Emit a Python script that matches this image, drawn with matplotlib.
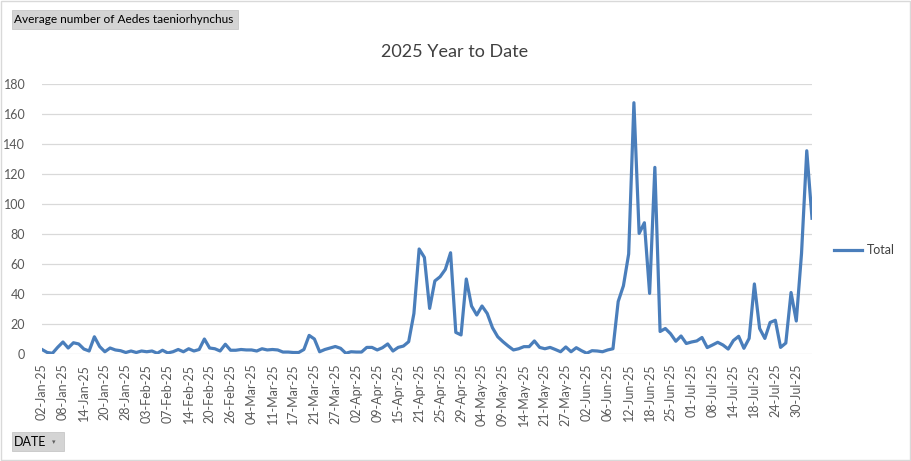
import matplotlib
matplotlib.use("Agg")
import matplotlib.pyplot as plt
from matplotlib.patches import Rectangle

plt.rcParams['font.family'] = ['Lato', 'DejaVu Sans']

# average count per sampling date (148 samples, labelled every 4th)
values = [3, 1, 0.5, 4.5, 8, 4, 7.5, 6.7, 3.3, 2, 11.5, 5, 1.5, 4, 2.7, 2.2, 1, 2, 1, 2,
          1.5, 2, 0.5, 2.5, 0.7, 1.5, 3, 1.5, 3.5, 2, 3, 10, 4, 3.5, 2, 6.5, 2.5, 2.5,
          3, 2.7, 2.7, 2, 3.5, 2.7, 3, 2.7, 1.3, 1.3, 1, 1, 3, 12.4, 10, 1.5, 3, 4, 5,
          3.8, 0.5, 1.5, 1.3, 1.3, 4.4, 4.4, 2.7, 4.2, 6.7, 2, 4.4, 5.3, 8.2, 27, 70,
          64.4, 30.4, 48.7, 51.5, 56.4, 67.5, 14.4, 12.7, 50, 32, 26, 32, 27, 17.5,
          11.5, 8.2, 5.3, 2.7, 3.5, 4.9, 4.9, 8.7, 4.4, 3.5, 4.4, 3, 1.5, 4.7, 1.5,
          4.2, 2.2, 0.5, 2.2, 2, 1.5, 2.7, 3.5, 35, 45.5, 66.7, 167.5, 80.4, 87.5,
          40.4, 124.4, 15, 17, 13.5, 8.5, 12, 7, 8, 8.7, 11, 4.3, 6, 7.8, 6, 3.3, 9,
          11.8, 3.8, 10.4, 46.7, 17, 10.4, 21, 22.5, 4.4, 7.3, 41, 22, 67, 135.5, 90.5]

tick_labels = ['02-Jan-25', '08-Jan-25', '14-Jan-25', '20-Jan-25', '28-Jan-25',
               '03-Feb-25', '07-Feb-25', '14-Feb-25', '20-Feb-25', '26-Feb-25',
               '04-Mar-25', '11-Mar-25', '17-Mar-25', '21-Mar-25', '27-Mar-25',
               '02-Apr-25', '09-Apr-25', '15-Apr-25', '21-Apr-25', '25-Apr-25',
               '29-Apr-25', '04-May-25', '09-May-25', '14-May-25', '21-May-25',
               '27-May-25', '02-Jun-25', '06-Jun-25', '12-Jun-25', '18-Jun-25',
               '25-Jun-25', '01-Jul-25', '08-Jul-25', '14-Jul-25', '18-Jul-25',
               '24-Jul-25', '30-Jul-25']
label_step = 4

fig = plt.figure(figsize=(9.12, 4.61), dpi=100)
ax = fig.add_axes([42 / 912, 107 / 461, 770 / 912, 270 / 461])

x = list(range(len(values)))
ax.plot(x, values, color='#4a7ebb', lw=2.3, label='Total', solid_joinstyle='round')

ax.set_xlim(0, len(values) - 1)
ax.set_ylim(0, 180)
ax.set_yticks(range(0, 181, 20))
ax.set_xticks(x[::label_step])
ax.set_xticklabels(tick_labels, rotation=90)
ax.tick_params(axis='both', length=0, colors='#595959', labelsize=9)
ax.tick_params(axis='x', pad=7)
ax.tick_params(axis='y', pad=12)
ax.grid(axis='y', color='#d9d9d9', lw=0.9)
ax.set_axisbelow(True)
for s in ax.spines.values():
    s.set_visible(False)

fig.text(455 / 912, 1 - 52 / 461, '2025 Year to Date', fontsize=13, color='#404040',
         ha='center', va='center')

leg = fig.legend(loc='center left', bbox_to_anchor=(823 / 912, 1 - 250 / 461),
                 frameon=False, fontsize=9, handlelength=2.2, handletextpad=0.4)
for t in leg.get_texts():
    t.set_color('#404040')

# chart border
fig.patches.append(Rectangle((0.001, 0.002), 0.997, 0.996, transform=fig.transFigure,
                             fill=False, ec='#d9d9d9', lw=1))

# pivot field buttons
fig.patches.append(Rectangle((12 / 912, 1 - 29 / 461), 226 / 912, 19 / 461,
                             transform=fig.transFigure, fc='#d4d4d4', ec='#c0c0c0', lw=0.5))
fig.text(14 / 912, 1 - 19.5 / 461, 'Average number of Aedes taeniorhynchus',
         fontsize=8.6, va='center', ha='left', color='black')
fig.patches.append(Rectangle((12 / 912, 1 - 451 / 461), 52 / 912, 19 / 461,
                             transform=fig.transFigure, fc='#d4d4d4', ec='#c0c0c0', lw=0.5))
fig.text(14 / 912, 1 - 441.5 / 461, 'DATE', fontsize=9, va='center', ha='left', color='black')
fig.text(54 / 912, 1 - 441.5 / 461, '\u25be', fontsize=5, va='center', ha='center', color='#606060')

fig.savefig('out.png', dpi=100)
